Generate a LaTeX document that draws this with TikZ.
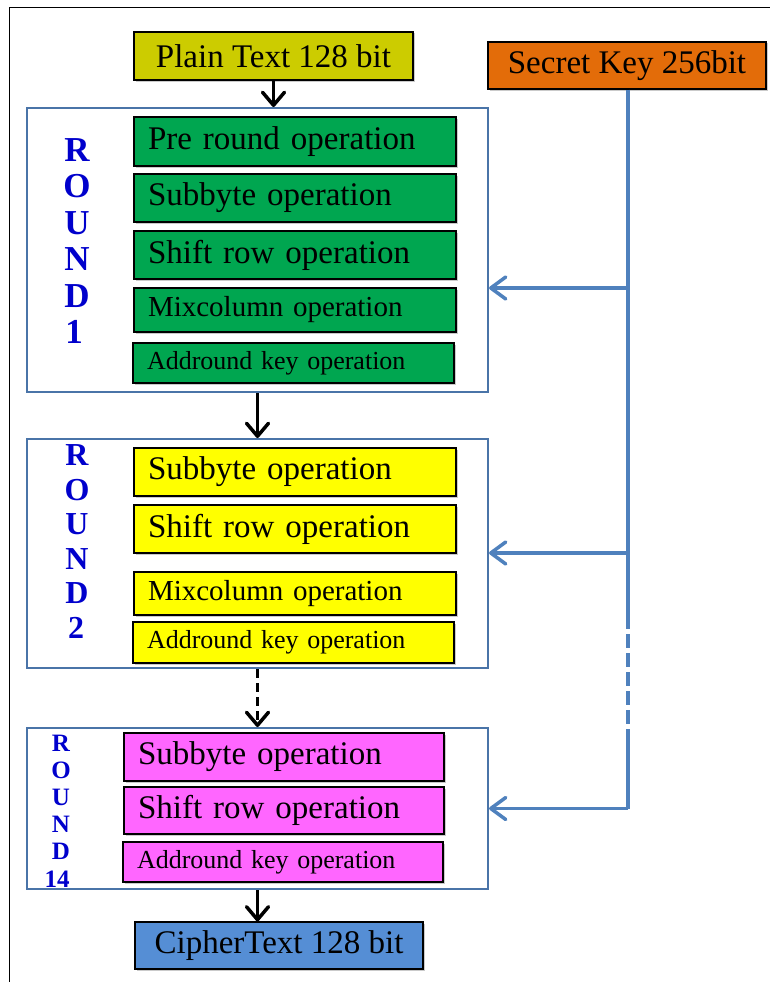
\documentclass[tikz,border=0pt]{standalone}
\usepackage{fontspec}
\setmainfont{Liberation Serif}
\usetikzlibrary{arrows.meta,shadows,calc}
\definecolor{plainc}{HTML}{CCCC00}
\definecolor{keyc}{HTML}{E36C09}
\definecolor{grn}{HTML}{00A650}
\definecolor{ylw}{HTML}{FFFF00}
\definecolor{mag}{HTML}{FF66FF}
\definecolor{ciph}{HTML}{558ED5}
\definecolor{rbord}{HTML}{4A74A8}
\definecolor{kline}{HTML}{4F81BD}
\definecolor{lblue}{HTML}{0000CC}
\begin{document}
\begin{tikzpicture}[x=1pt,y=-1pt,
  box/.style={draw=black,line width=1.1pt,inner ysep=0pt,
    drop shadow={shadow xshift=1.5pt,shadow yshift=-1.5pt,fill=black!35,opacity=0.6}},
  op/.style={box,inner xsep=14pt,align=left},
  bigtxt/.style={font=\fontsize{33}{38}\selectfont},
  midtxt/.style={font=\fontsize{29}{33}\selectfont},
  smltxt/.style={font=\fontsize{26}{30}\selectfont},
  roundbox/.style={draw=rbord,line width=2pt,inner sep=0pt},
  lblA/.style={text=lblue,font=\bfseries\fontsize{35}{40}\selectfont,inner sep=0pt},
  lblB/.style={text=lblue,font=\bfseries\fontsize{32}{36}\selectfont,inner sep=0pt},
  lblC/.style={text=lblue,font=\bfseries\fontsize{25}{28}\selectfont,inner sep=0pt},
  blkarrow/.style={line width=3.5pt,-{Straight Barb[length=13pt,width=22pt,line width=3.5pt,round]}},
  keyline/.style={draw=kline,line width=3.5pt},
  keyarrow/.style={keyline,-{Straight Barb[length=15pt,width=22pt,line width=3.5pt,round]}}
]
\useasboundingbox (0,0) rectangle (770,982);
% outer frame
\coordinate (fa) at (9,8);
\coordinate (fb) at (770,8);
\coordinate (fc) at (9,982);
\draw[line width=1pt] (fb) -- (fa) -- (fc);

% round boxes
\node[roundbox,minimum width=461pt,minimum height=284pt] (r1) at (257.5,250) {};
\node[roundbox,minimum width=461pt,minimum height=229pt] (r2) at (257.5,553.5) {};
\node[roundbox,minimum width=461pt,minimum height=161pt] (r14) at (257.5,808.5) {};

% input / key / output
\node[box,fill=plainc,bigtxt,minimum width=279pt,minimum height=48pt] (plain) at (273.5,56) {Plain Text 128 bit};
\node[box,fill=keyc,bigtxt,minimum width=278pt,minimum height=47pt] (key) at (627,65.5) {Secret Key 256bit};
\node[box,fill=ciph,bigtxt,minimum width=288pt,minimum height=47pt] (cipher) at (279,945.5) {CipherText 128 bit};

% round 1
\node[op,fill=grn,bigtxt,text width=294pt,minimum height=49pt] (pre) at (295,141.5) {Pre round operation};
\node[op,fill=grn,bigtxt,text width=294pt,minimum height=48pt] (sub1) at (295,198) {Subbyte operation};
\node[op,fill=grn,bigtxt,text width=294pt,minimum height=48pt] (shift1) at (295,255) {Shift row operation};
\node[op,fill=grn,midtxt,text width=294pt,minimum height=44pt] (mix1) at (295,310) {Mixcolumn operation};
\node[op,fill=grn,smltxt,text width=293pt,minimum height=40pt] (add1) at (293.5,363) {Addround key operation};

% round 2
\node[op,fill=ylw,bigtxt,text width=294pt,minimum height=48pt] (sub2) at (295,472) {Subbyte operation};
\node[op,fill=ylw,bigtxt,text width=294pt,minimum height=48pt] (shift2) at (295,529) {Shift row operation};
\node[op,fill=ylw,midtxt,text width=294pt,minimum height=43pt] (mix2) at (295,593.5) {Mixcolumn operation};
\node[op,fill=ylw,smltxt,text width=293pt,minimum height=41pt] (add2) at (293.5,642.5) {Addround key operation};

% round 14
\node[op,fill=mag,bigtxt,text width=292pt,minimum height=48pt] (sub14) at (284,757) {Subbyte operation};
\node[op,fill=mag,bigtxt,text width=292pt,minimum height=47pt] (shift14) at (284,810.5) {Shift row operation};
\node[op,fill=mag,smltxt,text width=292pt,minimum height=40pt] (add14) at (283,862) {Addround key operation};

% round labels
\foreach \ch [count=\i] in {R,O,U,N,D} {
  \node[lblA] (la\i) at (77,{150+36.4*(\i-1)}) {\ch};
  \node[lblB] (lb\i) at (77,{455+34.6*(\i-1)}) {\ch};
  \node[lblC] (lc\i) at (61,{743+27.2*(\i-1)}) {\ch};
}
\node[lblA] (la6) at (74,332) {1};
\node[lblB] (lb6) at (76,628) {2};
\node[lblC] (lc6) at (57,879) {14};

% black flow arrows
\draw[blkarrow] (plain.south) -- (plain.south |- r1.north);
\draw[blkarrow] (r1.south) -- (r2.north);
\draw[blkarrow,dash pattern=on 9pt off 5pt] (r2.south) -- (r14.north);
\draw[blkarrow] (r14.south) -- (r14.south |- cipher.north);

% key distribution
\coordinate (k1) at (628,288);
\coordinate (k2) at (628,553);
\coordinate (kd1) at (628,615);
\coordinate (kd2) at (628,733);
\coordinate (k3) at (628,808.5);
\draw[keyline] (key.south -| k1) -- (kd1);
\draw[keyline,dash pattern=on 14pt off 5pt] (kd1) -- (kd2);
\draw[keyline] (kd2) -- (k3);
\draw[keyarrow] (k1) -- (k1 -| r1.east);
\draw[keyarrow] (k2) -- (k2 -| r2.east);
\draw[keyarrow] (k3) -- (k3 -| r14.east);
\end{tikzpicture}
\end{document}
